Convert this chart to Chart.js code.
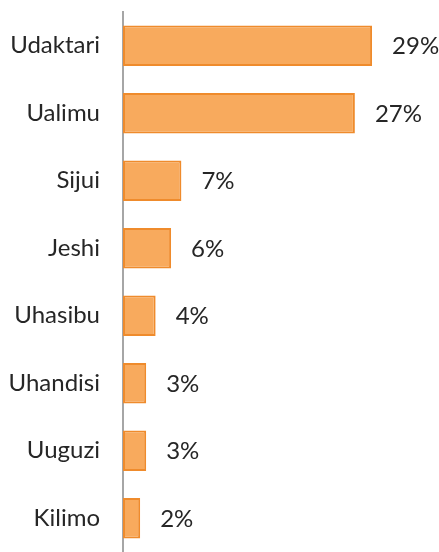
<!DOCTYPE html>
<html>
<head>
<meta charset="utf-8">
<script src="https://cdn.jsdelivr.net/npm/chart.js@4.4.1/dist/chart.umd.min.js"></script>
<style>
  html, body { margin: 0; padding: 0; background: #fff; }
  #wrap { width: 439px; height: 552px; }
</style>
</head>
<body>
<div id="wrap"><canvas id="myChart"></canvas></div>
<script>
const categories = ["Udaktari", "Ualimu", "Sijui", "Jeshi", "Uhasibu", "Uhandisi", "Uuguzi", "Kilimo"];
const values = [29, 27, 6.8, 5.6, 3.8, 2.7, 2.7, 2.0];
const valueLabels = ["29%", "27%", "7%", "6%", "4%", "3%", "3%", "2%"];

const barLabels = {
    id: 'barLabels',
    afterDatasetsDraw(chart) {
        const c = chart.ctx;
        const meta = chart.getDatasetMeta(0);
        c.save();
        c.font = '24px Lato';
        c.fillStyle = '#262626';
        c.textAlign = 'left';
        c.textBaseline = 'middle';
        meta.data.forEach((bar, i) => {
            c.fillText(valueLabels[i], bar.x + 20, bar.y + 1);
        });
        c.restore();
    }
};

const ctx = document.getElementById('myChart');
let myChart = new Chart(ctx, {
    type: 'bar',
    data: {
        labels: categories,
        datasets: [
            {
                data: values,
                backgroundColor: "#F8AA5D",
                borderColor: "#EF8B2C",
                borderWidth: 2,
                borderSkipped: false,
                categoryPercentage: 1.0,
                barPercentage: 0.6,
            }
        ]
    },
    options: {
        indexAxis: 'y',
        responsive: true,
        maintainAspectRatio: false,
        animation: false,
        layout: { padding: { top: 12, right: 24, bottom: 0, left: 0 } },
        plugins: {
            legend: { display: false },
            tooltip: { enabled: false }
        },
        scales: {
            x: {
                display: false,
                min: 0,
                max: 34
            },
            y: {
                grid: { display: false },
                border: { display: true, color: '#A6A6A6', width: 2 },
                ticks: {
                    color: '#262626',
                    font: { family: 'Lato', size: 24 },
                    padding: 15
                },
                afterFit(scale) {
                    scale.width = 123;
                    scale.paddingTop = 0;
                    scale.paddingBottom = 0;
                }
            }
        }
    },
    plugins: [barLabels]
});
</script>
</body>
</html>
